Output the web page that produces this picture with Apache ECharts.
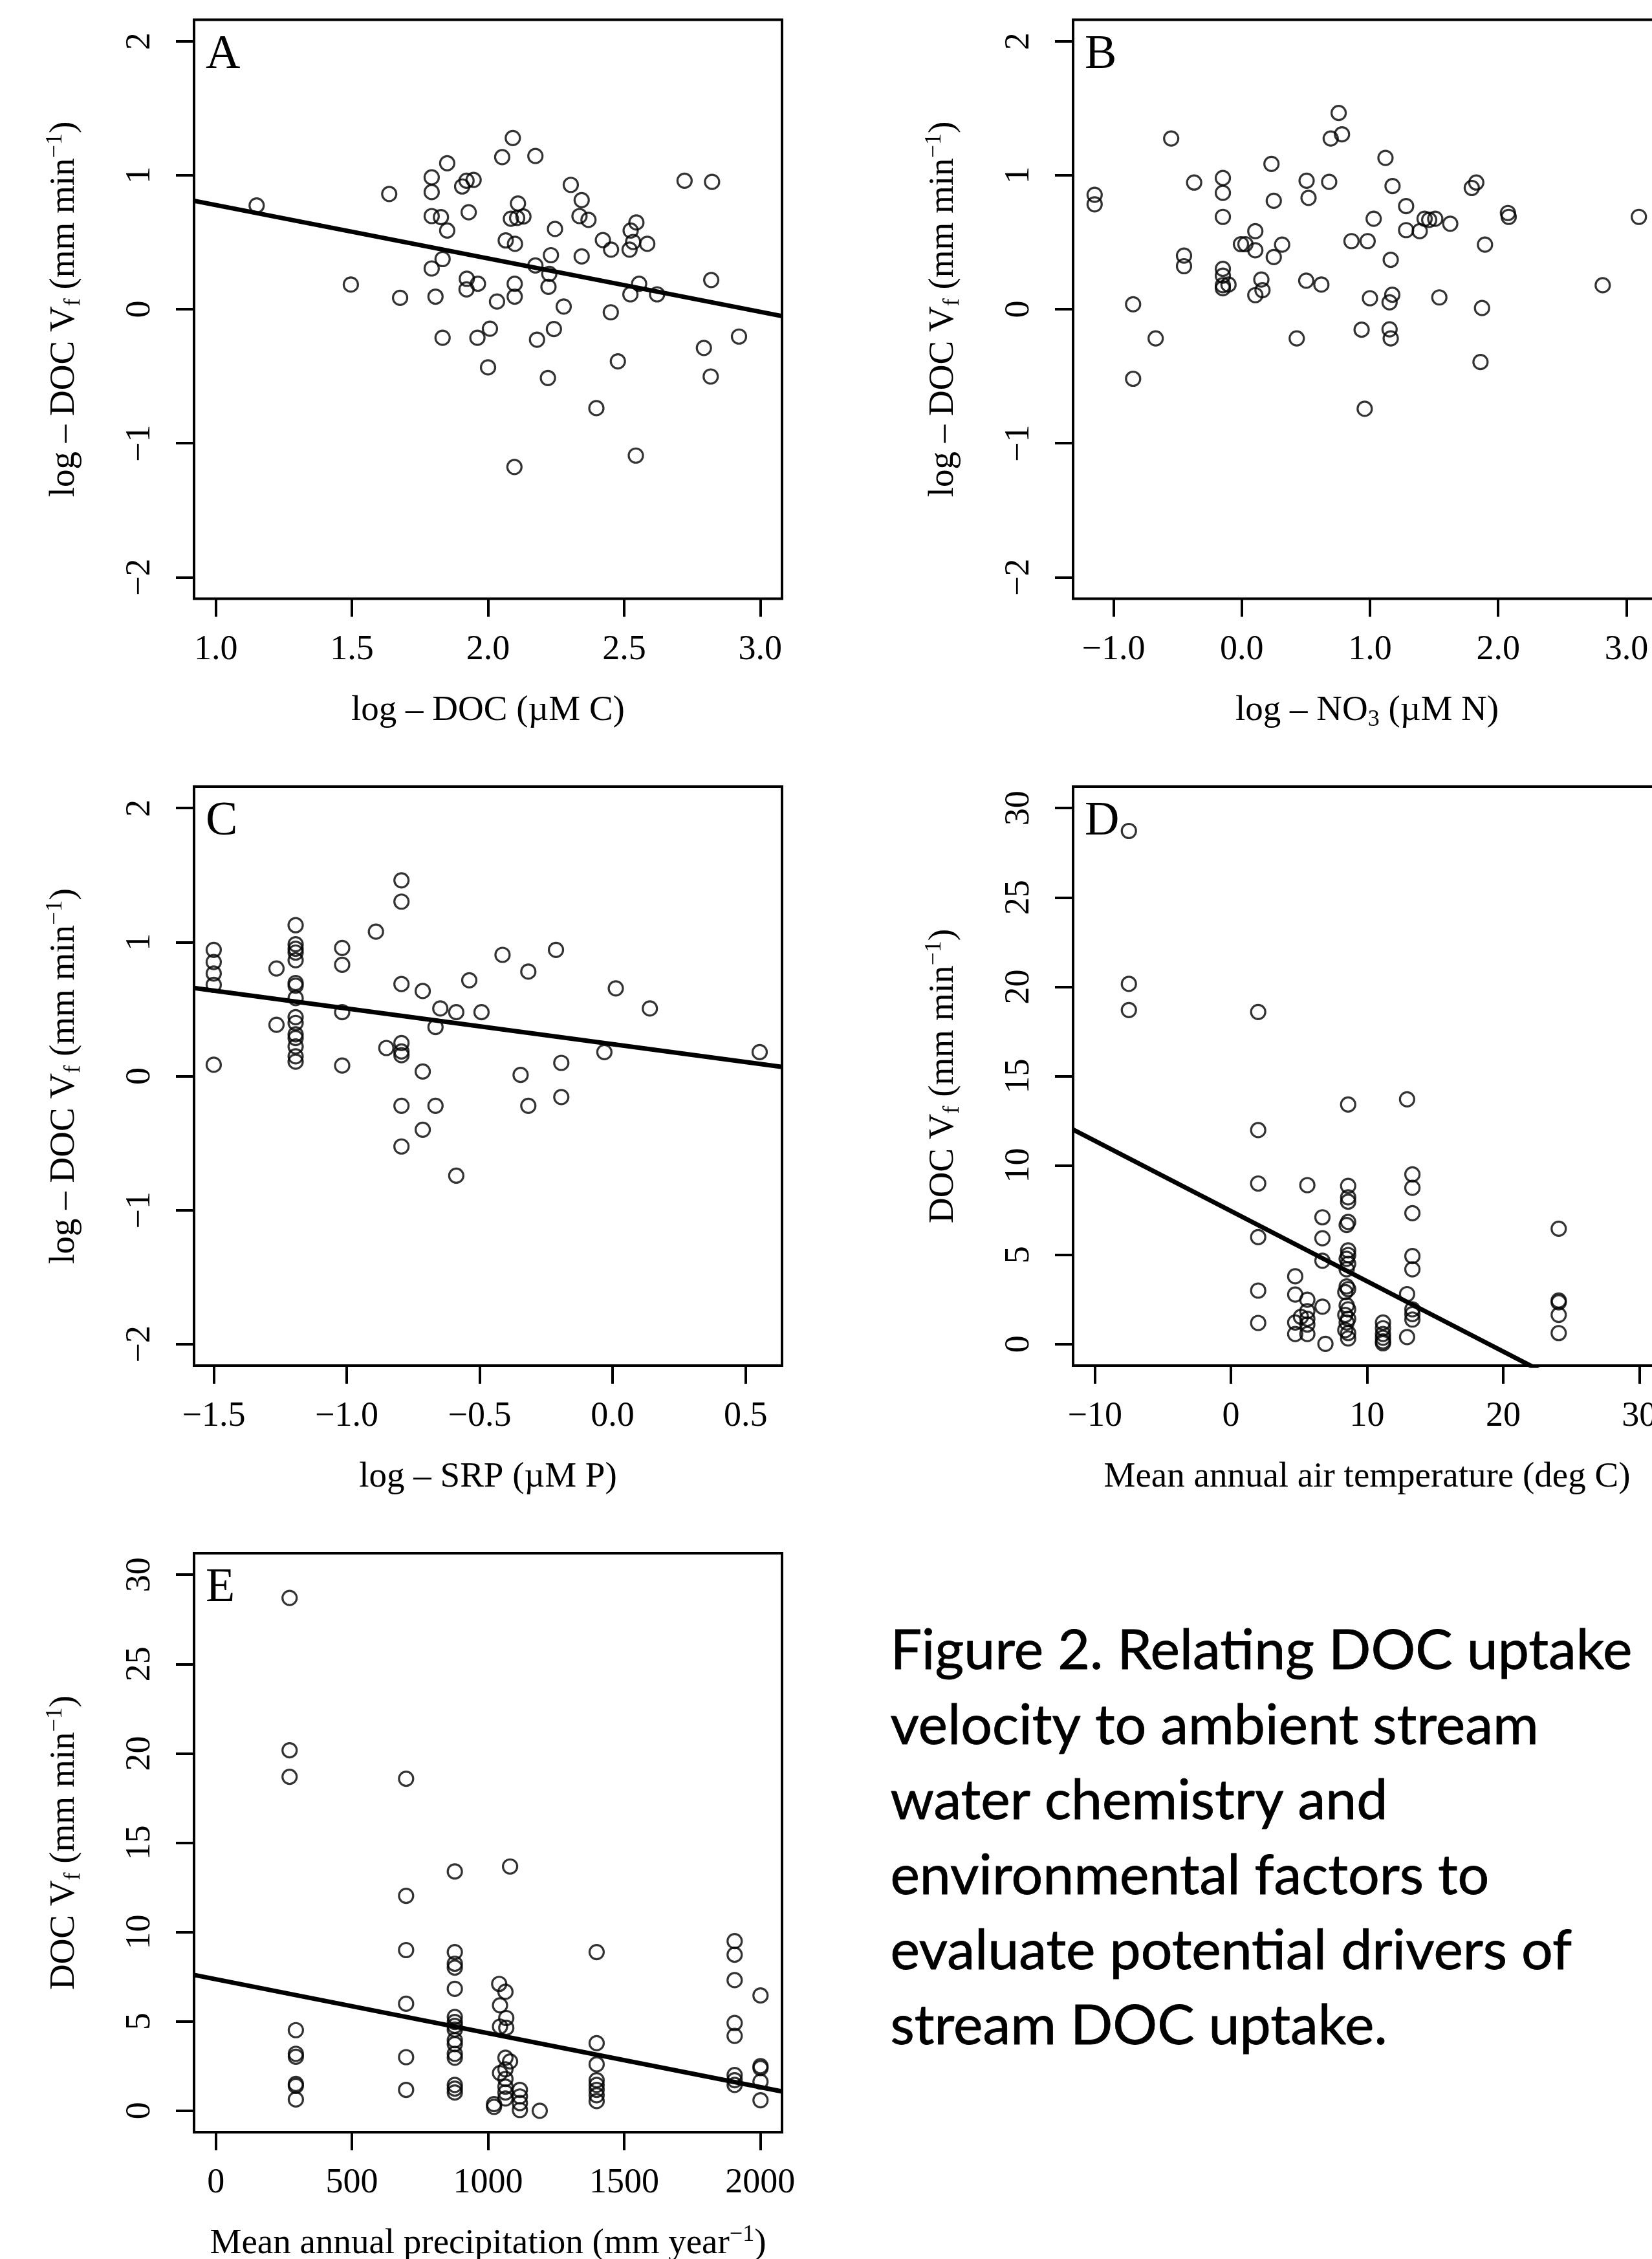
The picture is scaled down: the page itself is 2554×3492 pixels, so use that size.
<!DOCTYPE html>
<html>
<head>
<meta charset="utf-8">
<title>Figure 2 - DOC uptake velocity</title>
<script src="https://cdn.jsdelivr.net/npm/echarts@6/dist/echarts.min.js"></script>
<style>
  html, body { margin: 0; padding: 0; background: #fff; }
  #main { width: 2554px; height: 3492px; }
</style>
</head>
<body>
<div id="main"></div>
<script>
// ---- data ----
// A: log DOC vs log Vf
const pointsA = [[1.150,0.774],[1.637,0.860],[1.496,0.184],[1.677,0.085],[1.793,0.984],[1.793,0.874],[1.850,1.089],[1.905,0.916],[1.921,0.959],[1.947,0.965],[1.929,0.723],[1.793,0.695],[1.827,0.687],[1.850,0.587],[1.833,0.374],[1.793,0.304],[1.807,0.094],[1.922,0.227],[1.921,0.148],[1.963,0.190],[1.833,-0.213],[1.961,-0.213],[2.007,-0.145],[2.000,-0.434],[2.033,0.057],[2.052,1.135],[2.091,1.277],[2.174,1.143],[2.110,0.789],[2.084,0.675],[2.107,0.681],[2.130,0.692],[2.065,0.513],[2.099,0.488],[2.098,0.190],[2.098,0.094],[2.174,0.326],[2.225,0.264],[2.222,0.167],[2.231,0.403],[2.246,0.599],[2.180,-0.227],[2.242,-0.148],[2.278,0.020],[2.220,-0.513],[2.097,-1.177],[2.304,0.928],[2.344,0.814],[2.336,0.695],[2.369,0.667],[2.344,0.394],[2.422,0.516],[2.452,0.445],[2.451,-0.023],[2.477,-0.389],[2.398,-0.738],[2.545,0.647],[2.524,0.587],[2.533,0.502],[2.520,0.445],[2.585,0.488],[2.555,0.190],[2.523,0.111],[2.621,0.111],[2.543,-1.092],[2.722,0.959],[2.823,0.950],[2.820,0.218],[2.793,-0.289],[2.818,-0.502],[2.922,-0.204]];
const fitA = [[0.92,0.809],[3.08,-0.051]];

// B: log NO3 vs log Vf (no fit line)
const pointsB = [[-1.147,0.854],[-1.147,0.783],[-0.847,0.037],[-0.847,-0.519],[-0.671,-0.218],[-0.550,1.274],[-0.450,0.400],[-0.450,0.321],[-0.371,0.945],[-0.147,0.979],[-0.147,0.868],[-0.147,0.689],[-0.147,0.301],[-0.147,0.250],[-0.147,0.179],[-0.103,0.184],[-0.147,0.156],[-0.006,0.485],[0.029,0.485],[0.106,0.582],[0.106,0.440],[0.153,0.221],[0.162,0.142],[0.106,0.105],[0.232,1.084],[0.250,0.809],[0.315,0.482],[0.250,0.389],[0.429,-0.218],[0.506,0.959],[0.521,0.831],[0.503,0.213],[0.621,0.184],[0.682,0.950],[0.694,1.274],[0.782,1.305],[0.756,1.464],[0.856,0.508],[0.982,0.508],[0.935,-0.153],[0.959,-0.743],[1.000,0.082],[1.029,0.675],[1.121,1.129],[1.176,0.919],[1.162,0.369],[1.174,0.108],[1.153,0.051],[1.153,-0.150],[1.162,-0.218],[1.282,0.769],[1.282,0.590],[1.388,0.582],[1.426,0.675],[1.462,0.667],[1.509,0.675],[1.626,0.638],[1.541,0.088],[1.794,0.905],[1.829,0.945],[1.897,0.482],[1.874,0.009],[1.862,-0.394],[2.076,0.718],[2.082,0.689],[2.815,0.179],[3.097,0.689]];

// C: log SRP vs log Vf
const pointsC = [[-1.5,0.942],[-1.5,0.851],[-1.5,0.766],[-1.5,0.681],[-1.5,0.085],[-1.264,0.803],[-1.264,0.383],[-1.192,1.126],[-1.192,0.984],[-1.192,0.950],[-1.192,0.922],[-1.192,0.865],[-1.192,0.695],[-1.192,0.675],[-1.192,0.582],[-1.192,0.440],[-1.192,0.397],[-1.192,0.312],[-1.192,0.284],[-1.192,0.221],[-1.192,0.148],[-1.192,0.108],[-1.017,0.956],[-1.017,0.831],[-1.017,0.477],[-1.017,0.079],[-0.890,1.078],[-0.851,0.210],[-0.794,1.461],[-0.794,1.302],[-0.794,0.687],[-0.794,0.247],[-0.794,0.184],[-0.794,0.156],[-0.794,-0.221],[-0.794,-0.525],[-0.714,0.635],[-0.714,0.034],[-0.714,-0.400],[-0.666,0.366],[-0.666,-0.221],[-0.648,0.505],[-0.588,0.477],[-0.588,-0.743],[-0.539,0.715],[-0.493,0.477],[-0.414,0.905],[-0.346,0.009],[-0.317,0.780],[-0.317,-0.221],[-0.213,0.942],[-0.193,0.099],[-0.193,-0.156],[-0.031,0.179],[0.012,0.655],[0.140,0.505],[0.553,0.179]];
const fitC = [[-1.574,0.658],[0.637,0.069]];

// D: mean annual air temperature vs Vf
const pointsD = [[-7.5,28.72],[-7.5,20.16],[-7.5,18.70],[2.0,18.59],[2.0,11.98],[2.0,8.99],[2.0,5.99],[2.0,3.00],[2.0,1.19],[4.72,3.80],[4.72,2.78],[4.72,1.21],[4.72,0.57],[5.14,1.53],[5.61,8.90],[5.61,2.49],[5.61,1.85],[5.61,1.42],[5.61,1.10],[5.61,0.57],[6.72,7.10],[6.72,5.93],[6.72,4.67],[6.72,2.10],[6.94,0.02],[8.61,13.41],[8.61,8.86],[8.61,8.22],[8.61,7.97],[8.61,6.84],[8.50,6.67],[8.61,5.25],[8.61,4.99],[8.50,4.78],[8.61,4.50],[8.50,4.19],[8.50,3.23],[8.61,3.08],[8.40,2.91],[8.50,2.17],[8.61,1.95],[8.40,1.64],[8.61,1.42],[8.50,1.21],[8.40,0.79],[8.61,0.62],[8.61,0.32],[11.17,1.21],[11.17,0.89],[11.17,0.57],[11.17,0.36],[11.17,0.15],[11.17,0.05],[12.94,13.70],[13.33,9.50],[13.33,8.75],[13.33,7.33],[13.33,4.93],[13.33,4.19],[12.94,2.80],[13.33,1.95],[13.33,1.68],[13.33,1.38],[12.94,0.40],[24.08,6.46],[24.08,2.44],[24.08,2.34],[24.08,1.64],[24.08,0.62]];
const fitD = [[-11.6,12.01],[31.6,-4.97]];

// E: mean annual precipitation vs Vf
const pointsE = [[271,28.70],[271,20.17],[271,18.69],[294,4.51],[294,3.19],[294,3.02],[294,1.50],[294,1.39],[294,0.63],[699,18.58],[699,12.03],[699,8.99],[699,5.99],[699,3.00],[699,1.17],[878,13.39],[878,8.88],[878,8.23],[878,8.01],[878,6.82],[878,5.25],[878,4.97],[878,4.75],[878,4.54],[878,3.95],[878,3.73],[878,3.19],[878,2.97],[878,1.45],[878,1.24],[878,1.02],[1081,13.67],[1041,7.10],[1064,6.66],[1044,5.90],[1067,5.19],[1044,4.71],[1067,4.64],[1064,2.97],[1081,2.76],[1044,2.11],[1064,2.32],[1064,1.78],[1064,1.35],[1064,1.02],[1064,0.69],[1022,0.37],[1022,0.22],[1117,1.17],[1117,0.80],[1117,0.43],[1117,0.04],[1190,0.00],[1399,8.88],[1399,3.78],[1399,2.60],[1399,1.71],[1399,1.45],[1399,1.17],[1399,0.87],[1399,0.54],[1906,9.49],[1906,8.73],[1906,7.31],[1906,4.91],[1906,4.19],[1906,2.00],[1906,1.71],[1906,1.45],[2001,6.45],[2001,2.50],[2001,2.39],[2001,1.63],[2001,0.59]];
const fitE = [[-80,7.60],[2080,1.08]];

// ---- ticks and tick labels ----
const ticksLogVf = [-2, -1, 0, 1, 2];
const labelsLogVf = ['−2', '−1', '0', '1', '2'];
const ticksDOC = [1, 1.5, 2, 2.5, 3];
const labelsDOC = ['1.0', '1.5', '2.0', '2.5', '3.0'];
const ticksNO3 = [-1, 0, 1, 2, 3];
const labelsNO3 = ['−1.0', '0.0', '1.0', '2.0', '3.0'];
const ticksSRP = [-1.5, -1, -0.5, 0, 0.5];
const labelsSRP = ['−1.5', '−1.0', '−0.5', '0.0', '0.5'];
const ticksTemp = [-10, 0, 10, 20, 30];
const labelsTemp = ['−10', '0', '10', '20', '30'];
const ticksPrec = [0, 500, 1000, 1500, 2000];
const labelsPrec = ['0', '500', '1000', '1500', '2000'];
const ticksVf = [0, 5, 10, 15, 20, 25, 30];
const labelsVf = ['0', '5', '10', '15', '20', '25', '30'];

const captionLines = [
  'Figure 2. Relating DOC uptake',
  'velocity to ambient stream',
  'water chemistry and',
  'environmental factors to',
  'evaluate potential drivers of',
  'stream DOC uptake.'
];

// ---- layout ----
const serif = 'Liberation Serif';
const boxW = 909, boxH = 895;
const colLeft = [300, 1659];
const rowTop = [30.5, 1216, 2401];

const rich = {
  t: { fontFamily: serif, fontSize: 55, color: '#000', lineHeight: 64 },
  sub: { fontFamily: serif, fontSize: 36, color: '#000', lineHeight: 64, verticalAlign: 'bottom' },
  sup: { fontFamily: serif, fontSize: 36, color: '#000', lineHeight: 64, verticalAlign: 'top' }
};

function pick(ticks, labels) {
  return function (v) {
    for (let i = 0; i < ticks.length; i++) {
      if (Math.abs(ticks[i] - v) < 1e-9) return labels[i];
    }
    return '';
  };
}

function makeAxis(dim, idx, min, max, ticks, labels, name) {
  const isX = dim === 'x';
  return {
    type: 'value',
    gridIndex: idx,
    position: isX ? 'bottom' : 'left',
    min: min,
    max: max,
    name: name,
    nameLocation: 'middle',
    nameGap: isX ? 141 : 168,
    nameTextStyle: { rich: rich },
    axisLine: { show: false, onZero: false },
    splitLine: { show: false },
    axisTick: {
      show: true,
      inside: false,
      length: 28,
      customValues: ticks,
      lineStyle: { color: '#000', width: 4 }
    },
    axisLabel: {
      customValues: ticks,
      formatter: pick(ticks, labels),
      rotate: isX ? 0 : 90,
      margin: isX ? 52 : 56,
      fontFamily: serif,
      fontSize: 54,
      color: '#000'
    }
  };
}

const grids = [
  [colLeft[0], rowTop[0]],
  [colLeft[1], rowTop[0]],
  [colLeft[0], rowTop[1]],
  [colLeft[1], rowTop[1]],
  [colLeft[0], rowTop[2]]
].map(function (p) {
  return {
    left: p[0], top: p[1], width: boxW, height: boxH,
    show: true, borderColor: '#000', borderWidth: 4,
    backgroundColor: 'transparent',
    containLabel: false, outerBoundsMode: 'none'
  };
});

const yNameLog = '{t|log – DOC V}{sub|f}{t| (mm min}{sup|−1}{t|)}';
const yNameVf = '{t|DOC V}{sub|f}{t| (mm min}{sup|−1}{t|)}';

const xAxes = [
  makeAxis('x', 0, 0.92, 3.08, ticksDOC, labelsDOC, '{t|log – DOC (µM C)}'),
  makeAxis('x', 1, -1.315, 3.27, ticksNO3, labelsNO3, '{t|log – NO}{sub|3}{t| (µM N)}'),
  makeAxis('x', 2, -1.574, 0.637, ticksSRP, labelsSRP, '{t|log – SRP (µM P)}'),
  makeAxis('x', 3, -11.6, 31.6, ticksTemp, labelsTemp, '{t|Mean annual air temperature (deg C)}'),
  makeAxis('x', 4, -80, 2080, ticksPrec, labelsPrec, '{t|Mean annual precipitation (mm year}{sup|−1}{t|)}')
];
const yAxes = [
  makeAxis('y', 0, -2.16, 2.16, ticksLogVf, labelsLogVf, yNameLog),
  makeAxis('y', 1, -2.16, 2.16, ticksLogVf, labelsLogVf, yNameLog),
  makeAxis('y', 2, -2.16, 2.16, ticksLogVf, labelsLogVf, yNameLog),
  makeAxis('y', 3, -1.2, 31.2, ticksVf, labelsVf, yNameVf),
  makeAxis('y', 4, -1.2, 31.2, ticksVf, labelsVf, yNameVf)
];

function scatter(idx, data) {
  return {
    type: 'scatter', xAxisIndex: idx, yAxisIndex: idx, data: data,
    symbol: 'circle', symbolSize: 22, silent: true,
    itemStyle: { color: 'rgba(0,0,0,0)', borderColor: '#000', borderWidth: 3.2 }
  };
}
function fitLine(idx, data) {
  return {
    type: 'line', xAxisIndex: idx, yAxisIndex: idx, data: data,
    showSymbol: false, symbol: 'none', clip: true, silent: true,
    lineStyle: { color: '#000', width: 7 }
  };
}

// panel letters
const letters = ['A', 'B', 'C', 'D', 'E'].map(function (ch, i) {
  const g = grids[i];
  return {
    text: ch, left: g.left + 18, top: g.top + 18, padding: 0,
    textStyle: { fontFamily: serif, fontSize: 74, fontWeight: 'normal', color: '#000' }
  };
});

const option = {
  animation: false,
  backgroundColor: '#fff',
  title: letters,
  grid: grids,
  xAxis: xAxes,
  yAxis: yAxes,
  series: [
    scatter(0, pointsA), fitLine(0, fitA),
    scatter(1, pointsB),
    scatter(2, pointsC), fitLine(2, fitC),
    scatter(3, pointsD), fitLine(3, fitD),
    scatter(4, pointsE), fitLine(4, fitE)
  ],
  graphic: [{
    type: 'text',
    left: 1376,
    top: 2494,
    style: {
      text: captionLines.join('\n'),
      font: '86px Lato',
      lineHeight: 116,
      fill: '#000',
      stroke: '#000',
      lineWidth: 0.8
    }
  }]
};

const myChart = echarts.init(document.getElementById('main'));
myChart.setOption(option);
</script>
</body>
</html>
